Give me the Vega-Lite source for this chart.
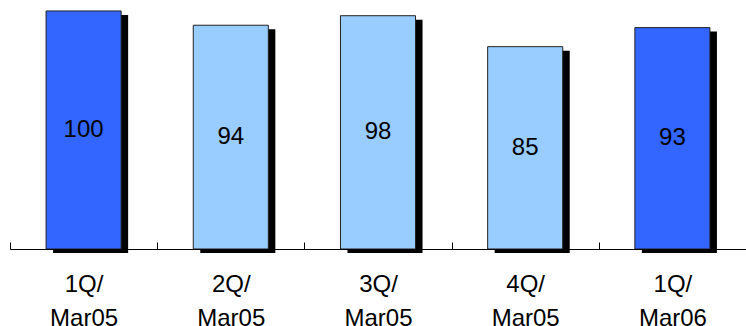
{
  "$schema": "https://vega.github.io/schema/vega-lite/v6.json",
  "width": 736,
  "height": 249,
  "padding": {"left": 10, "top": 0, "right": 0, "bottom": 77},
  "autosize": {"type": "none"},
  "background": "white",
  "config": {"view": {"stroke": null}},
  "data": {
    "values": [
      {"period": "1Q/ Mar05", "value": 100, "kind": "dark"},
      {"period": "2Q/ Mar05", "value": 94, "kind": "light"},
      {"period": "3Q/ Mar05", "value": 98, "kind": "light"},
      {"period": "4Q/ Mar05", "value": 85, "kind": "light"},
      {"period": "1Q/ Mar06", "value": 93, "kind": "dark"}
    ]
  },
  "encoding": {
    "x": {
      "field": "period",
      "type": "nominal",
      "sort": null,
      "scale": {"paddingInner": 0.49, "paddingOuter": 0.245},
      "axis": {
        "title": null,
        "labelAngle": 0,
        "labelExpr": "split(datum.label, ' ')",
        "labelFont": "Liberation Sans",
        "labelFontSize": 24,
        "labelColor": "black",
        "labelLineHeight": 34,
        "labelPadding": 30,
        "labelOffset": 73.6,
        "domainColor": "black",
        "ticks": true,
        "tickColor": "black",
        "tickWidth": 1,
        "tickSize": -7,
        "tickOffset": -73.6,
        "zindex": 2
      }
    }
  },
  "layer": [
    {
      "mark": {"type": "bar", "color": "black", "xOffset": 7, "yOffset": 4, "y2Offset": 0},
      "encoding": {
        "y": {"field": "value", "type": "quantitative", "scale": {"domain": [0, 104.6], "nice": false}, "axis": null}
      }
    },
    {
      "mark": {"type": "bar", "stroke": "#222222", "strokeWidth": 1},
      "encoding": {
        "y": {"field": "value", "type": "quantitative", "scale": {"domain": [0, 104.6], "nice": false}, "axis": null},
        "color": {
          "field": "kind",
          "type": "nominal",
          "scale": {"domain": ["dark", "light"], "range": ["#3366FF", "#99CCFF"]},
          "legend": null
        }
      }
    },
    {
      "transform": [{"calculate": "datum.value / 2", "as": "mid"}],
      "mark": {"type": "text", "font": "Liberation Sans", "fontSize": 24, "color": "black", "baseline": "middle"},
      "encoding": {
        "y": {"field": "mid", "type": "quantitative", "scale": {"domain": [0, 104.6], "nice": false}, "axis": null},
        "text": {"field": "value", "type": "quantitative"}
      }
    }
  ]
}
